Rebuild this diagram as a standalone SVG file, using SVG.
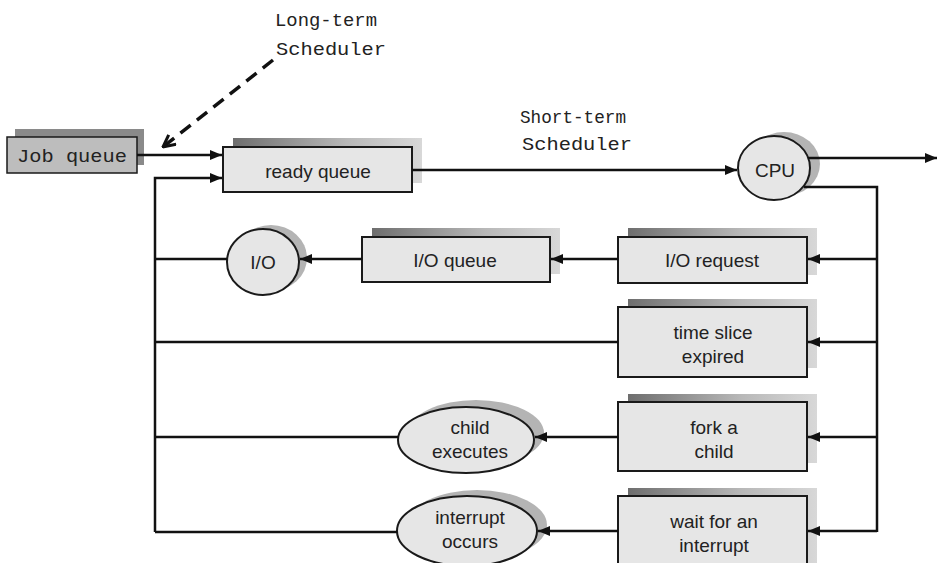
<svg xmlns="http://www.w3.org/2000/svg" width="938" height="563" viewBox="0 0 938 563">
<style>
.box{fill:#e6e6e6;stroke:#1a1a1a;stroke-width:2}
.sh{fill:url(#shg)}
.esh{fill:#b4b4b4}
.t{font-family:"Liberation Sans",Arial,sans-serif;font-size:19px;fill:#222;text-anchor:middle}
.m{font-family:"Liberation Mono","Courier New",monospace;font-size:18px;fill:#222}
.ln{fill:none;stroke:#111;stroke-width:2.5}
.ar{fill:none;stroke:#111;stroke-width:2.5;marker-end:url(#ah)}
</style>
<defs>
<linearGradient id="shg" x1="0" y1="0" x2="1" y2="0">
<stop offset="0" stop-color="#6e6e6e"/>
<stop offset="0.6" stop-color="#b8b8b8"/>
<stop offset="1" stop-color="#d8d8d8"/>
</linearGradient>
<marker id="ah" viewBox="0 0 12 10" refX="12" refY="5" markerWidth="12" markerHeight="10" markerUnits="userSpaceOnUse" orient="auto">
<path d="M0,0 L12,5 L0,10 Z" fill="#111"/>
</marker>
<marker id="oh" viewBox="0 0 14 14" refX="13" refY="7" markerWidth="14" markerHeight="14" markerUnits="userSpaceOnUse" orient="auto">
<path d="M1,1 L13,7 L1,13" fill="none" stroke="#111" stroke-width="3"/>
</marker>
</defs>

<g id="long-term-label">
<text class="m" x="275" y="26" textLength="102" lengthAdjust="spacingAndGlyphs">Long-term</text>
<text class="m" x="276" y="55" textLength="110" lengthAdjust="spacingAndGlyphs">Scheduler</text>
</g>
<g id="short-term-label">
<text class="m" x="520" y="123" textLength="106" lengthAdjust="spacingAndGlyphs">Short-term</text>
<text class="m" x="522" y="150" textLength="110" lengthAdjust="spacingAndGlyphs">Scheduler</text>
</g>

<g id="job-queue">
<rect x="15" y="129" width="129" height="36" fill="#8a8a8a"/>
<rect x="7" y="137" width="130" height="36" fill="#bdbdbd" stroke="#1a1a1a" stroke-width="1.5"/>
<text class="m" x="17" y="162" textLength="110" lengthAdjust="spacingAndGlyphs">Job queue</text>
</g>

<g id="ready-queue">
<rect class="sh" x="233" y="138" width="189" height="45"/>
<rect class="box" x="223" y="147" width="189" height="45"/>
<text class="t" x="318" y="178">ready queue</text>
</g>

<g id="cpu">
<ellipse class="esh" cx="784" cy="164" rx="36" ry="32"/>
<ellipse class="box" cx="774" cy="168" rx="36" ry="32"/>
<text class="t" x="775" y="177">CPU</text>
</g>

<g id="io-request">
<rect class="sh" x="628" y="228" width="189" height="47"/>
<rect class="box" x="618" y="237" width="189" height="46"/>
<text class="t" x="712" y="267">I/O request</text>
</g>

<g id="io-queue">
<rect class="sh" x="372" y="228" width="188" height="46"/>
<rect class="box" x="362" y="237" width="188" height="45"/>
<text class="t" x="455" y="267">I/O queue</text>
</g>

<g id="io">
<ellipse class="esh" cx="271" cy="258" rx="36" ry="33"/>
<ellipse class="box" cx="263" cy="262" rx="36" ry="33"/>
<text class="t" x="263" y="269">I/O</text>
</g>

<g id="time-slice">
<rect class="sh" x="628" y="299" width="189" height="69"/>
<rect class="box" x="618" y="307" width="189" height="70"/>
<text class="t" x="713" y="339">time slice</text>
<text class="t" x="713" y="363">expired</text>
</g>

<g id="fork-child">
<rect class="sh" x="628" y="394" width="189" height="69"/>
<rect class="box" x="618" y="402" width="189" height="69"/>
<text class="t" x="714" y="434">fork a</text>
<text class="t" x="714" y="458">child</text>
</g>

<g id="child-executes">
<ellipse class="esh" cx="476" cy="433" rx="68" ry="33"/>
<ellipse class="box" cx="466" cy="440" rx="68" ry="33"/>
<text class="t" x="470" y="434">child</text>
<text class="t" x="470" y="458">executes</text>
</g>

<g id="wait-interrupt">
<rect class="sh" x="628" y="488" width="189" height="80"/>
<rect class="box" x="618" y="496" width="189" height="80"/>
<text class="t" x="714" y="528">wait for an</text>
<text class="t" x="714" y="552">interrupt</text>
</g>

<g id="interrupt-occurs">
<ellipse class="esh" cx="477" cy="525" rx="70" ry="35"/>
<ellipse class="box" cx="467" cy="531" rx="70" ry="35"/>
<text class="t" x="470" y="524">interrupt</text>
<text class="t" x="470" y="548">occurs</text>
</g>

<g id="connectors">
<line class="ar" x1="137" y1="155" x2="222" y2="155"/>
<polyline class="ar" points="155,532 155,178 222,178"/>
<line class="ar" x1="412" y1="170" x2="737" y2="170"/>
<line class="ar" x1="808" y1="158" x2="937" y2="158"/>
<polyline class="ln" points="804,187 877,187 877,532"/>
<line class="ar" x1="877" y1="259" x2="808" y2="259"/>
<line class="ar" x1="877" y1="342" x2="808" y2="342"/>
<line class="ar" x1="877" y1="437" x2="808" y2="437"/>
<line class="ar" x1="877" y1="531" x2="808" y2="531"/>
<line class="ar" x1="618" y1="259" x2="551" y2="259"/>
<line class="ar" x1="362" y1="259" x2="300" y2="259"/>
<line class="ln" x1="227" y1="259" x2="155" y2="259"/>
<line class="ln" x1="618" y1="342" x2="155" y2="342"/>
<line class="ar" x1="618" y1="437" x2="535" y2="437"/>
<line class="ln" x1="398" y1="437" x2="155" y2="437"/>
<line class="ar" x1="618" y1="531" x2="538" y2="531"/>
<line class="ln" x1="397" y1="532" x2="155" y2="532"/>
<line x1="273" y1="60" x2="163" y2="147" stroke="#111" stroke-width="3.5" stroke-dasharray="13 8" marker-end="url(#oh)"/>
</g>
</svg>
